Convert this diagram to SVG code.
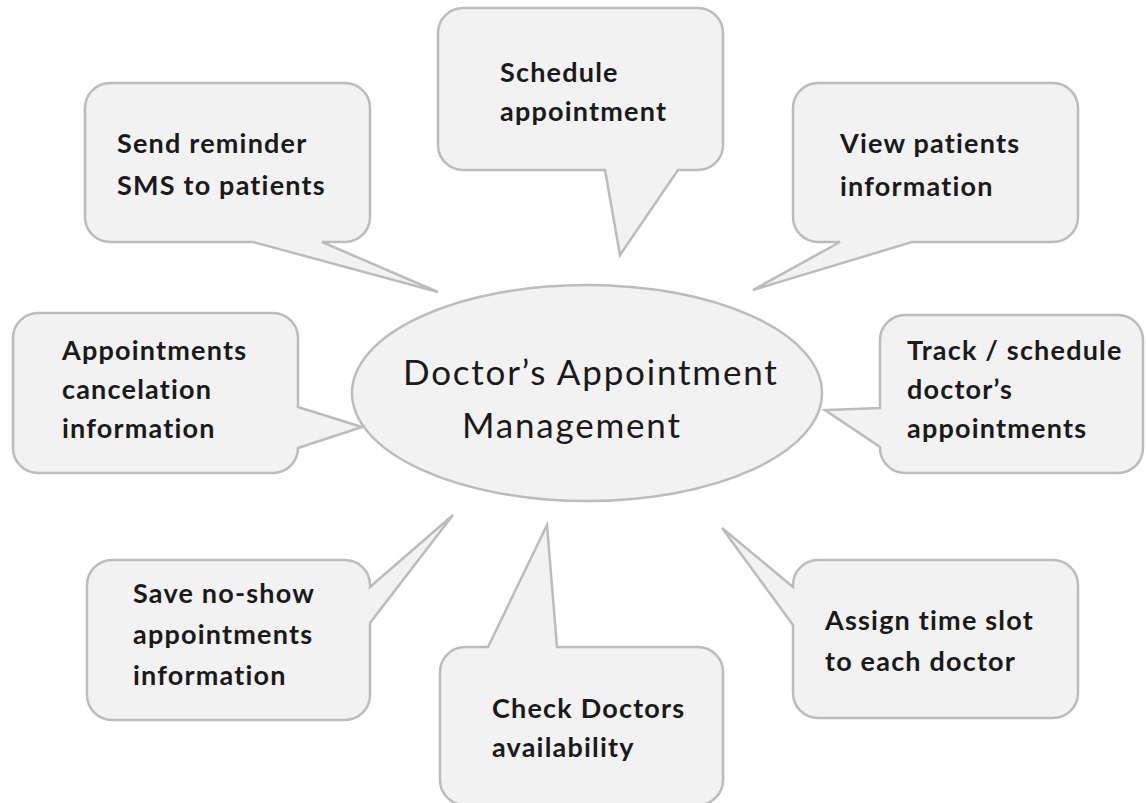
<svg xmlns="http://www.w3.org/2000/svg" width="1146" height="803" viewBox="0 0 1146 803">
<style>
.co{fill:#f2f2f2;stroke:#bcbcbc;stroke-width:2.5;stroke-linejoin:miter}
.t{font-family:Lato,"Liberation Sans",sans-serif;font-weight:bold;font-size:27px;letter-spacing:1.2px;fill:#1a1a1a}
.c{font-family:Lato,"Liberation Sans",sans-serif;font-size:35px;letter-spacing:1.8px;fill:#1a1a1a}
</style>
<rect width="1146" height="803" fill="#ffffff"/>
<g id="connectors"></g>
<g id="n-send-reminder">
<path class="co" d="M110,83 H345 A25,25 0 0 1 370,108 V217 A25,25 0 0 1 345,242 H322 L438,292 L253,242 H110 A25,25 0 0 1 85,217 V108 A25,25 0 0 1 110,83 Z"/>
<text class="t" x="117" y="153">Send reminder</text>
<text class="t" x="117" y="195">SMS to patients</text>
</g>
<g id="n-schedule">
<path class="co" d="M463,8 H698 A25,25 0 0 1 723,33 V145 A25,25 0 0 1 698,170 H678 L620,255 L605,170 H463 A25,25 0 0 1 438,145 V33 A25,25 0 0 1 463,8 Z"/>
<text class="t" x="500" y="82">Schedule</text>
<text class="t" x="500" y="121">appointment</text>
</g>
<g id="n-view-patients">
<path class="co" d="M818,83 H1053 A25,25 0 0 1 1078,108 V217 A25,25 0 0 1 1053,242 H912 L753,290 L840,242 H818 A25,25 0 0 1 793,217 V108 A25,25 0 0 1 818,83 Z"/>
<text class="t" x="840" y="153">View patients</text>
<text class="t" x="840" y="196">information</text>
</g>
<g id="n-cancelation">
<path class="co" d="M38,313 H273 A25,25 0 0 1 298,338 V407 L362,427 L298,448 A25,25 0 0 1 273,473 H38 A25,25 0 0 1 13,448 V338 A25,25 0 0 1 38,313 Z"/>
<text class="t" x="62" y="360">Appointments</text>
<text class="t" x="62" y="399">cancelation</text>
<text class="t" x="62" y="438">information</text>
</g>
<g id="n-track">
<path class="co" d="M905,315 H1118 A25,25 0 0 1 1143,340 V448 A25,25 0 0 1 1118,473 H905 A25,25 0 0 1 880,448 V447 L825,410 L880,408 V340 A25,25 0 0 1 905,315 Z"/>
<text class="t" x="907" y="360">Track / schedule</text>
<text class="t" x="907" y="399">doctor’s</text>
<text class="t" x="907" y="438">appointments</text>
</g>
<g id="n-no-show">
<path class="co" d="M112,560 H345 A25,25 0 0 1 370,585 V587 L453,515 L370,623 V695 A25,25 0 0 1 345,720 H112 A25,25 0 0 1 87,695 V585 A25,25 0 0 1 112,560 Z"/>
<text class="t" x="133" y="603">Save no-show</text>
<text class="t" x="133" y="644">appointments</text>
<text class="t" x="133" y="685">information</text>
</g>
<g id="n-check-doctors">
<path class="co" d="M465,647 H488 L547,525 L557,647 H698 A25,25 0 0 1 723,672 V780 A25,25 0 0 1 698,805 H465 A25,25 0 0 1 440,780 V672 A25,25 0 0 1 465,647 Z"/>
<text class="t" x="492" y="718">Check Doctors</text>
<text class="t" x="492" y="757">availability</text>
</g>
<g id="n-assign">
<path class="co" d="M818,560 H1053 A25,25 0 0 1 1078,585 V693 A25,25 0 0 1 1053,718 H818 A25,25 0 0 1 793,693 V625 L722,528 L793,587 V585 A25,25 0 0 1 818,560 Z"/>
<text class="t" x="825" y="630">Assign time slot</text>
<text class="t" x="825" y="671">to each doctor</text>
</g>
<g id="n-center">
<ellipse class="co" cx="587" cy="393" rx="235" ry="108"/>
<text class="c" x="403" y="385">Doctor’s Appointment</text>
<text class="c" x="462" y="438">Management</text>
</g>
</svg>
